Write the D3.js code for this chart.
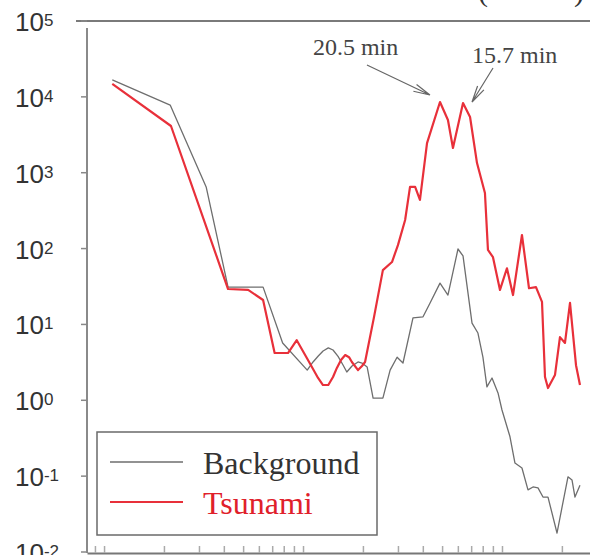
<!DOCTYPE html>
<html>
<head>
<meta charset="utf-8">
<script src="https://cdn.jsdelivr.net/npm/d3@7"></script>
<style>
  body { margin: 0; background: #fff; }
  svg { display: block; }
  .tick-lab { font-family: "Liberation Sans", Arial, sans-serif; fill: #333; }
  .serif { font-family: "Liberation Serif", "Times New Roman", serif; }
</style>
</head>
<body>
<svg id="chart" width="590" height="555"></svg>
<script>
// frequency (cpm) and spectral power
var bgFreq = [0.0011,0.00215,0.00326,0.0042,0.0063,0.0079,0.0105,0.01123,0.0119,0.01261,0.0134,0.01415,0.0150,0.01589,0.0166,0.01763,0.0189,0.01979,0.0210,0.0225,0.0252,0.0274,0.0297,0.0318,0.0357,0.0401,0.0435,0.0488,0.0535,0.0601,0.0637,0.0707,0.0757,0.0802,0.0840,0.0891,0.0955,0.1000,0.1097,0.1162,0.1260,0.1351,0.1432,0.1517,0.1607,0.1703,0.1890,0.2146,0.2248,0.2327,0.2466];
var bgPower = [16700,7800,650,31,31,5.7,2.5,3.2,3.8,4.47,4.9,4.6,3.8,2.92,2.36,2.83,3.2,3.1,2.75,1.07,1.07,2.5,3.7,3.1,12.2,12.6,19.2,35,24.4,98.7,80,10.4,7.7,3.7,1.5,1.97,1.25,0.745,0.33,0.149,0.128,0.066,0.072,0.070,0.053,0.053,0.0178,0.098,0.089,0.053,0.076];

var tsFreq = [0.0011,0.00217,0.0042,0.0053,0.0063,0.0072,0.0084,0.0093,0.0108,0.0119,0.0126,0.0134,0.01415,0.0148,0.01552,0.0163,0.01703,0.0176,0.0189,0.01979,0.0205,0.0227,0.0252,0.0280,0.0300,0.0326,0.0345,0.0366,0.0387,0.0420,0.0488,0.0535,0.0567,0.0637,0.0691,0.0749,0.0821,0.0850,0.0901,0.0977,0.1059,0.1136,0.1260,0.1367,0.1482,0.1589,0.1645,0.1703,0.1846,0.1956,0.2073,0.2197,0.2355,0.2466];
var tsPower = [14800,4130,29.3,28.5,21,4.2,4.2,6.2,3.1,1.97,1.59,1.59,2.03,2.67,3.4,3.95,3.7,3.2,2.5,2.83,3.2,12.2,52,66.5,111,238,650,650,437,2460,8550,4950,2120,8300,5430,1340,540,96,77,28.5,55,24.4,151,30,31,19.8,2.03,1.45,2.15,6.8,5.7,19.2,2.9,1.59];

var yExps = [5,4,3,2,1,0,-1,-2];
var legendLabels = ["Background", "Tsunami"];
var peakLabels = ["20.5 min", "15.7 min"];
var peakPeriods = [20.5, 15.7];

var svg = d3.select("#chart");
var pLeft = 87, pRight = 590, pTop = 21, pBottom = 552;

var x = d3.scaleLog().domain([0.000821, 0.2769]).range([pLeft, pRight]);
var y = d3.scaleLog().domain([1e-2, 1e5]).range([pBottom, pTop]);

// frame lines
svg.append("line").attr("x1", 76).attr("x2", pRight).attr("y1", pTop).attr("y2", pTop)
  .attr("stroke", "#7a7a7a").attr("stroke-width", 2);
svg.append("line").attr("x1", pLeft).attr("x2", pLeft).attr("y1", pTop + 7).attr("y2", pBottom + 1)
  .attr("stroke", "#8a8a8a").attr("stroke-width", 2);

// bottom axis with upward log ticks
var xAxis = d3.axisBottom(x).tickSizeInner(-7).tickSizeOuter(0).tickFormat("");
var gx = svg.append("g").attr("transform", "translate(0," + (pBottom + 1) + ")").call(xAxis);
gx.select(".domain").attr("stroke", "#777").attr("stroke-width", 2);
gx.selectAll(".tick line").attr("stroke", "#aaa").attr("stroke-width", 1.5);

// y ticks and labels
var yt = svg.append("g");
yt.selectAll("line").data(yExps).enter().append("line")
  .attr("x1", pLeft - 6).attr("x2", pLeft)
  .attr("y1", function(d){ return y(Math.pow(10, d)); })
  .attr("y2", function(d){ return y(Math.pow(10, d)); })
  .attr("stroke", "#888").attr("stroke-width", 1.5);
var lab = yt.selectAll("text").data(yExps).enter().append("text")
  .attr("class", "tick-lab")
  .attr("x", 15)
  .attr("y", function(d){ return y(Math.pow(10, d)) + 10; })
  .style("font-size", "26px");
lab.append("tspan").text("10");
lab.append("tspan").attr("dy", -5).style("font-size", "17px")
  .text(function(d){ return d < 0 ? "-" + (-d) : d; });

// cropped title parentheses
svg.append("text").attr("class", "serif").attr("x", 478).attr("y", 1)
  .style("font-size", "30px").attr("fill", "#333").text("(");
svg.append("text").attr("class", "serif").attr("x", 574).attr("y", 1)
  .style("font-size", "30px").attr("fill", "#333").text(")");

// series
var line = d3.line()
  .x(function(d){ return x(d[0]); })
  .y(function(d){ return y(d[1]); })
  .curve(d3.curveLinear);

svg.append("path").datum(d3.zip(bgFreq, bgPower))
  .attr("d", line).attr("fill", "none").attr("stroke", "#6e6e6e").attr("stroke-width", 1.3)
  .attr("stroke-linejoin", "round");
svg.append("path").datum(d3.zip(tsFreq, tsPower))
  .attr("d", line).attr("fill", "none").attr("stroke", "#e8303a").attr("stroke-width", 2.2)
  .attr("stroke-linejoin", "round");

// peak annotations
function arrow(x1, y1, x2, y2) {
  var a = Math.atan2(y2 - y1, x2 - x1), L = 17, w = 0.22;
  var p = "M" + x1 + "," + y1 + "L" + x2 + "," + y2 +
    "M" + (x2 - L * Math.cos(a - w)) + "," + (y2 - L * Math.sin(a - w)) + "L" + x2 + "," + y2 +
    "L" + (x2 - L * Math.cos(a + w)) + "," + (y2 - L * Math.sin(a + w));
  svg.append("path").attr("d", p).attr("fill", "none").attr("stroke", "#666").attr("stroke-width", 1.2);
}
var f1 = 1 / peakPeriods[0], f2 = 1 / peakPeriods[1];
var t1x = x(f1) - 10, t1y = y(8550) - 7;
var t2x = x(f2) + 9, t2y = y(8300) - 1;
arrow(t1x - 63, t1y - 30, t1x, t1y);
arrow(t2x + 21, t2y - 34, t2x, t2y);
svg.append("text").attr("class", "serif").attr("x", t1x - 117).attr("y", t1y - 40)
  .style("font-size", "24px").attr("fill", "#444").text(peakLabels[0]);
svg.append("text").attr("class", "serif").attr("x", t2x).attr("y", t2y - 39)
  .style("font-size", "24px").attr("fill", "#444").text(peakLabels[1]);

// legend
var lg = svg.append("g");
lg.append("rect").attr("x", 97).attr("y", 432).attr("width", 280).attr("height", 103)
  .attr("fill", "#fff").attr("stroke", "#6a6a6a").attr("stroke-width", 1.5);
var legColors = ["#6e6e6e", "#e8303a"];
var legWidths = [1.3, 2.2];
legendLabels.forEach(function(t, i){
  var yy = 462 + i * 40;
  lg.append("line").attr("x1", 110).attr("x2", 183).attr("y1", yy).attr("y2", yy)
    .attr("stroke", legColors[i]).attr("stroke-width", legWidths[i]);
  lg.append("text").attr("class", "serif").attr("x", 203).attr("y", yy + 12)
    .style("font-size", "32px").attr("fill", i == 0 ? "#333" : "#e0202a").text(t);
});
</script>
</body>
</html>
